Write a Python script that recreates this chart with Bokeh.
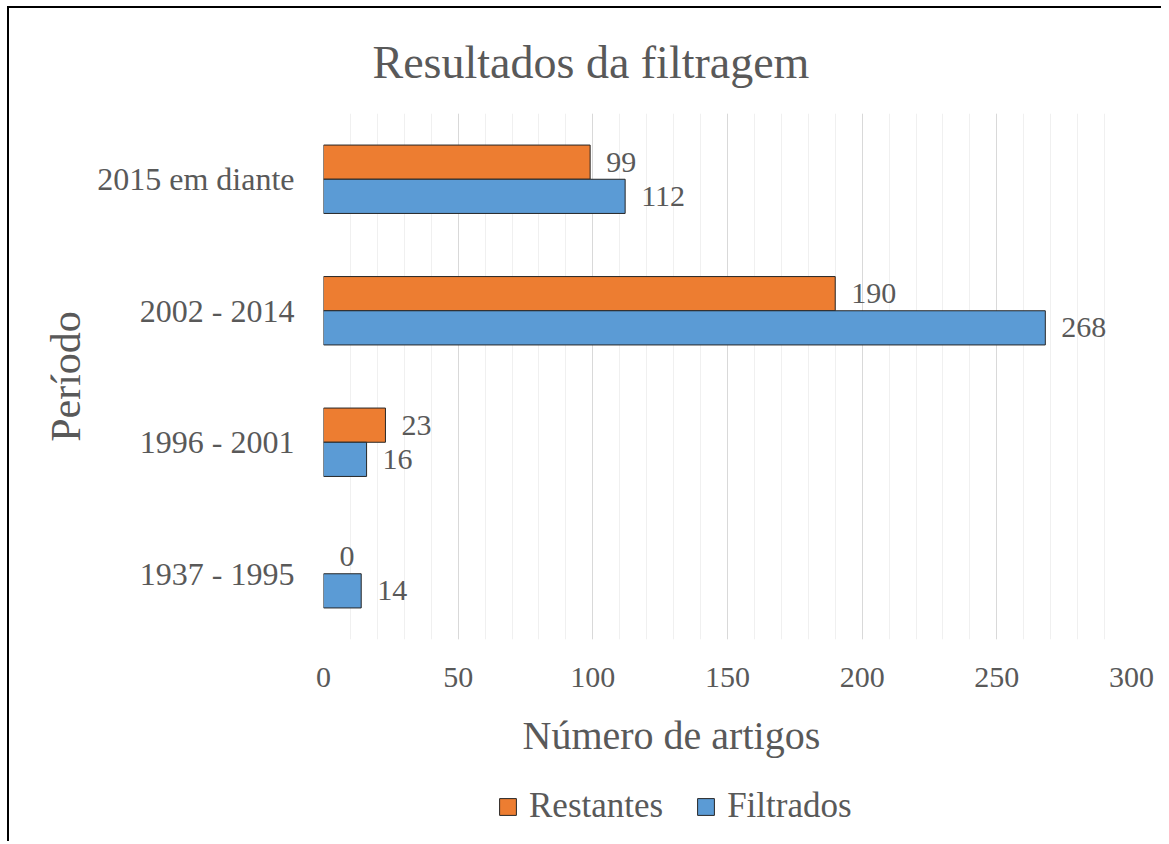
from bokeh.plotting import figure
from bokeh.layouts import column
from bokeh.models import (ColumnDataSource, FactorRange, Range1d, SingleIntervalTicker,
                          LabelSet, Legend, LegendItem, Title)
from bokeh.transform import dodge
from bokeh.embed import file_html
from bokeh.resources import INLINE

# ---- data ----
periods = ["1937 - 1995", "1996 - 2001", "2002 - 2014", "2015 em diante"]
restantes = [0, 23, 190, 99]
filtrados = [14, 16, 268, 112]
series_names = ["Restantes", "Filtrados"]
x_tick_interval = 50
x_max = 300

FONT = "Liberation Serif"
TEXT = "#595959"
ORANGE = "#ED7D31"
BLUE = "#5B9BD5"
EDGE = "#262626"

src = ColumnDataSource(dict(
    period=periods,
    restantes=restantes,
    filtrados=filtrados,
    restantes_txt=[str(v) for v in restantes],
    filtrados_txt=[str(v) for v in filtrados],
    restantes_edge=[EDGE if v > 0 else None for v in restantes],
))

p = figure(frame_width=808, frame_height=526,
           y_range=FactorRange(factors=periods), x_range=Range1d(0, x_max),
           output_backend="svg", toolbar_location=None,
           min_border_left=314, min_border_right=30,
           min_border_top=101, min_border_bottom=0)
p.outline_line_color = None
p.background_fill_color = "white"
p.border_fill_color = "white"

off = 0.13
bh = 0.26
r1 = p.hbar(y=dodge("period", off, range=p.y_range), left=0, right="restantes",
            height=bh, fill_color=ORANGE, line_color="restantes_edge", line_width=1,
            source=src)
r2 = p.hbar(y=dodge("period", -off, range=p.y_range), left=0, right="filtrados",
            height=bh, fill_color=BLUE, line_color=EDGE, line_width=1, source=src)

for field, o in (("restantes", off), ("filtrados", -off)):
    p.add_layout(LabelSet(x=field, y=dodge("period", o, range=p.y_range),
                          text=field + "_txt", x_offset=16,
                          text_align="left", text_baseline="middle",
                          text_font=FONT, text_font_size="30px", text_color=TEXT,
                          source=src))

ticker = SingleIntervalTicker(interval=x_tick_interval, num_minor_ticks=5)
p.xaxis.ticker = ticker
p.xgrid.ticker = ticker
p.xgrid.grid_line_color = "#D9D9D9"
p.xgrid.minor_grid_line_color = "#F0F0F0"
p.ygrid.grid_line_color = None

for ax in (p.xaxis[0], p.yaxis[0]):
    ax.axis_line_color = None
    ax.major_tick_line_color = None
    ax.minor_tick_line_color = None
    ax.major_label_text_font = FONT
    ax.major_label_text_color = TEXT

p.xaxis.major_label_text_font_size = "30px"
p.xaxis.major_label_standoff = 22
p.yaxis.major_label_text_font_size = "32px"
p.yaxis.major_label_standoff = 23
p.yaxis.axis_label = "Período"
p.yaxis.axis_label_text_font = FONT
p.yaxis.axis_label_text_font_size = "42px"
p.yaxis.axis_label_text_font_style = "normal"
p.yaxis.axis_label_text_color = TEXT
p.yaxis.axis_label_standoff = 5

p.title.text = "Resultados da filtragem"
p.title.align = "left"
p.title.offset = 49
p.title.text_font = FONT
p.title.text_font_size = "46px"
p.title.text_font_style = "normal"
p.title.text_color = TEXT
p.title.standoff = 52

xt = Title(text="Número de artigos", align="left", offset=199,
           text_font=FONT, text_font_size="40px", text_font_style="normal",
           text_color=TEXT, standoff=42)
p.add_layout(xt, "below")

# ---- legend strip (separate small figure under the chart, frame aligned) ----
lf = figure(width=1152, height=63, x_range=Range1d(0, 1), y_range=Range1d(0, 1),
            output_backend="svg", toolbar_location=None,
            x_axis_location=None, y_axis_location=None, min_border=0)
lf.grid.grid_line_color = None
lf.outline_line_color = None
lf.background_fill_color = "white"
lf.border_fill_color = "white"
# legend-only swatch renderers (hidden; they only supply the legend's glyph styles)
lr1 = lf.hbar(y="y", right="right", height=0.1, fill_color=ORANGE, line_color=EDGE,
              line_width=1, source=ColumnDataSource(dict(y=[0], right=[0])),
              visible=False)
lr2 = lf.hbar(y="y", right="right", height=0.1, fill_color=BLUE, line_color=EDGE,
              line_width=1, source=ColumnDataSource(dict(y=[0], right=[0])),
              visible=False)

legend = Legend(items=[LegendItem(label=series_names[0], renderers=[lr1]),
                       LegendItem(label=series_names[1], renderers=[lr2])],
                orientation="horizontal", location=(174, 15),
                glyph_width=21, glyph_height=21, label_height=21,
                label_standoff=11, spacing=32,
                padding=0, margin=0, border_line_color=None,
                background_fill_alpha=0, inactive_fill_alpha=0,
                label_text_font=FONT, label_text_font_size="35px",
                label_text_color=TEXT)
lf.add_layout(legend, "center")

page = column(p, lf, spacing=0,
              styles={"border-left": "2px solid black", "border-top": "2px solid black",
                      "margin-top": "6px", "margin-left": "7px"})

open("out.html", "w").write(file_html(page, INLINE))
